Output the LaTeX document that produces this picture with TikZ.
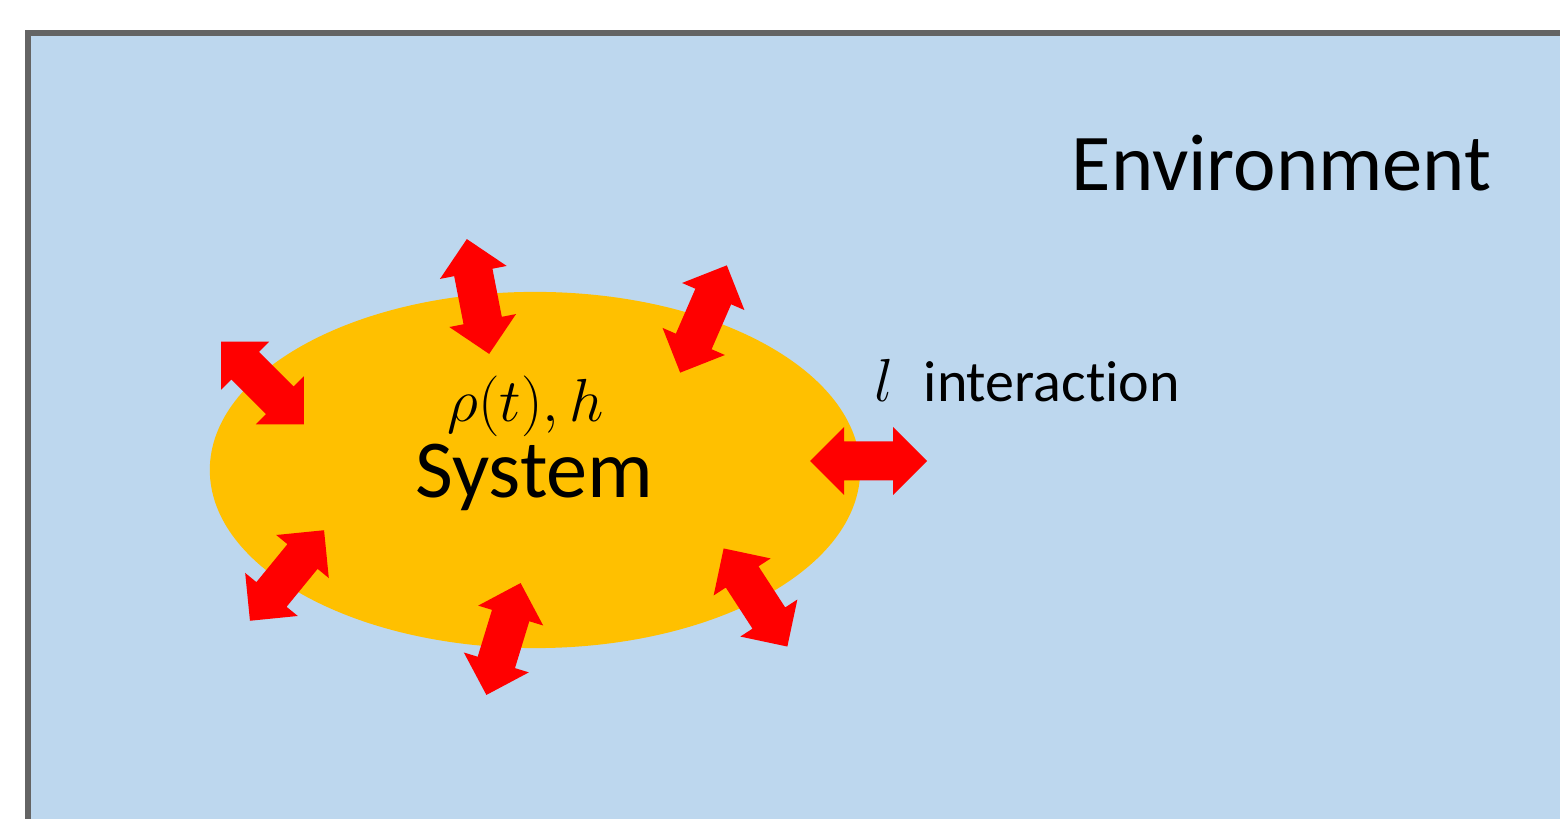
\documentclass[tikz,border=0pt]{standalone}
\usepackage{fontspec}
\setmainfont{Carlito}[Ligatures=NoCommon]
\usetikzlibrary{shapes.geometric}
\definecolor{envblue}{HTML}{BDD7EE}
\definecolor{sysorange}{HTML}{FFC000}
\definecolor{arrowred}{HTML}{FF0000}
\definecolor{framegray}{HTML}{646464}
\tikzset{
  redarrow/.style={fill=arrowred},
  lbl/.style={inner sep=0pt, text=black},
}
\newcommand\dblarrow[3]{%
  \fill[redarrow, shift={(#1,#2)}, rotate=#3]
    (58.5,0) -- (24.5,34) -- (24.5,19.5) -- (-24.5,19.5) -- (-24.5,34) -- (-58.5,0)
    -- (-24.5,-34) -- (-24.5,-19.5) -- (24.5,-19.5) -- (24.5,-34) -- cycle;}
\begin{document}
\begin{tikzpicture}[x=0.01cm, y=0.01cm]
  \clip (0,0) rectangle (1560,-819);
  \fill[white] (0,0) rectangle (1560,-819);
  \draw[framegray, line width=1.6pt, fill=envblue] (28,-33) rectangle (1700,-950);
  \node[ellipse, fill=sysorange, inner sep=0pt, minimum width=6.5cm, minimum height=3.56cm] (sys) at (535,-470) {};
  \node[lbl, anchor=base, font=\fontsize{16}{18}\selectfont] (state) at (525.5,-422) {$\rho(t),h$};
  \node[lbl, anchor=base, font=\fontsize{23.4}{26}\selectfont] (sysname) at (534.5,-498) {System};
  \node[lbl, anchor=base west, font=\fontsize{22.9}{26}\selectfont] (env) at (1071,-191) {Environment};
  \node[lbl, anchor=base west, font=\fontsize{16}{18}\selectfont] (lsym) at (874,-402) {$l$};
  \node[lbl, anchor=base west, font=\fontsize{16.5}{18}\selectfont] (inter) at (923,-402) {interaction};
  \dblarrow{262.5}{-383}{-45}
  \dblarrow{478}{-296.5}{-79}
  \dblarrow{703.5}{-319}{66.5}
  \dblarrow{868.5}{-461}{0}
  \dblarrow{287}{-575.5}{50.7}
  \dblarrow{503.5}{-639}{73}
  \dblarrow{755.5}{-597.5}{-57}
\end{tikzpicture}
\end{document}
